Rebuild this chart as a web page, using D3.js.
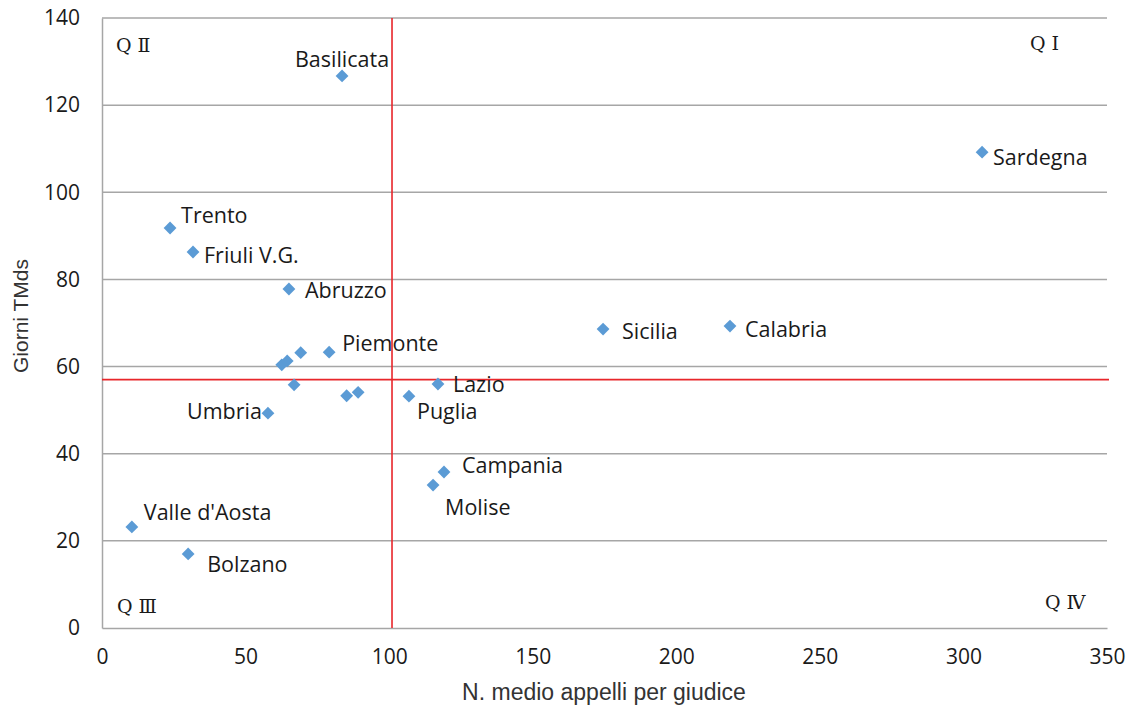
<!DOCTYPE html>
<html><head><meta charset="utf-8">
<script src="https://cdn.jsdelivr.net/npm/d3@7/dist/d3.min.js"></script>
<style>
html,body{margin:0;padding:0;background:#fff;}
svg{display:block;}
</style></head>
<body>
<svg id="chart" width="1133" height="709"></svg>
<script>
// ---- data ----
const regions = ["Basilicata","Sardegna","Trento","Friuli V.G.","Abruzzo","Piemonte","Sicilia","Calabria","Lazio","Puglia","Umbria","Campania","Molise","Valle d'Aosta","Bolzano","Lombardia","Veneto","Liguria","Emilia-Romagna","Toscana","Marche"];
const appelli  = [83.6, 306.5, 23.7, 31.7, 65.1, 79.1, 174.5, 218.7, 117.0, 106.9, 57.8, 119.1, 115.3, 10.4, 30.0, 62.6, 64.5, 69.2, 66.9, 85.2, 89.2];
const giorni   = [126.7, 109.2, 91.8, 86.3, 77.8, 63.3, 68.6, 69.3, 56.0, 53.2, 49.3, 35.8, 32.8, 23.2, 17.0, 60.4, 61.3, 63.2, 55.8, 53.3, 54.1];
const shownLabels = ["Basilicata","Sardegna","Trento","Friuli V.G.","Abruzzo","Piemonte","Sicilia","Calabria","Lazio","Puglia","Umbria","Campania","Molise","Valle d'Aosta","Bolzano"];
const xTicks = [0,50,100,150,200,250,300,350];
const yTicks = [0,20,40,60,80,100,120,140];
const refX = 101;   // vertical reference line
const refY = 57;    // horizontal reference line
const quadrantNames = ["Q Ⅰ","Q Ⅱ","Q Ⅲ","Q Ⅳ"];
const xTitle = "N. medio appelli per giudice";
const yTitle = "Giorni TMds";

// ---- layout (placement offsets in px) ----
const labelPos = {
  "Basilicata":[0,-9,"middle"],
  "Sardegna":[11,13,"start"],
  "Trento":[11,-5,"start"],
  "Friuli V.G.":[11,11,"start"],
  "Abruzzo":[16,9,"start"],
  "Piemonte":[13,-1,"start"],
  "Sicilia":[19,10,"start"],
  "Calabria":[15,11,"start"],
  "Lazio":[15,8,"start"],
  "Puglia":[8,23,"start"],
  "Umbria":[-6,6,"end"],
  "Campania":[18,1,"start"],
  "Molise":[12,30,"start"],
  "Valle d'Aosta":[12,-7,"start"],
  "Bolzano":[19,18,"start"]
};
const quadPos = {"Q Ⅰ":[1030,50],"Q Ⅱ":[116,52],"Q Ⅲ":[117,613],"Q Ⅳ":[1045,609]};

const svg = d3.select("#chart");
const L = 102, R = 1107, T = 18, B = 628;
const x = d3.scaleLinear().domain([0,350]).range([L,R]);
const y = d3.scaleLinear().domain([0,140]).range([B,T]);

const tickFont = "'Open Sans','Noto Sans',sans-serif";
const titleFont = "'Liberation Sans Narrow','Liberation Sans',Arial,sans-serif";
const labelFont = "'Open Sans','Noto Sans',sans-serif";

// gridlines
svg.append("g").selectAll("line").data(yTicks.filter(d=>d>0)).join("line")
  .attr("x1",L).attr("x2",R).attr("y1",d=>y(d)).attr("y2",d=>y(d))
  .attr("stroke","#a6a6a6").attr("stroke-width",1.5);

// axes
const yAxis = d3.axisLeft(y).tickValues(yTicks).tickSize(0).tickPadding(22);
const gy = svg.append("g").attr("transform",`translate(${L},0)`).call(yAxis);
gy.select(".domain").attr("stroke","#a6a6a6").attr("stroke-width",1.5);
gy.selectAll("text").attr("font-family",tickFont).attr("font-size",21).attr("fill","#1a1a1a");

const xAxis = d3.axisBottom(x).tickValues(xTicks).tickSize(0).tickPadding(21);
const gx = svg.append("g").attr("transform",`translate(0,${B})`).call(xAxis);
gx.select(".domain").attr("stroke","#a6a6a6").attr("stroke-width",1.5);
gx.selectAll("text").attr("font-family",tickFont).attr("font-size",21).attr("fill","#1a1a1a");

// axis titles
svg.append("text").attr("x",604).attr("y",700).attr("text-anchor","middle")
  .attr("font-family",titleFont).attr("font-size",23).attr("fill","#333").text(xTitle);
svg.append("text").attr("transform",`translate(28,316) rotate(-90)`).attr("text-anchor","middle")
  .attr("font-family",titleFont).attr("font-size",21).attr("fill","#333").text(yTitle);

// reference lines
svg.append("line").attr("x1",x(refX)).attr("x2",x(refX)).attr("y1",T).attr("y2",B)
  .attr("stroke","#e8262b").attr("stroke-width",1.6);
svg.append("line").attr("x1",L).attr("x2",R+2).attr("y1",y(refY)).attr("y2",y(refY))
  .attr("stroke","#e8262b").attr("stroke-width",1.6);

// quadrant labels
svg.append("g").selectAll("text").data(quadrantNames).join("text")
  .attr("x",d=>quadPos[d][0]).attr("y",d=>quadPos[d][1])
  .attr("font-family","'DejaVu Serif','Liberation Serif',serif")
  .attr("font-size",19).attr("fill","#1a1a1a").text(d=>d);

// points
const pts = regions.map((r,i)=>({name:r, a:appelli[i], g:giorni[i]}));
svg.append("g").selectAll("path").data(pts).join("path")
  .attr("transform",d=>`translate(${x(d.a)},${y(d.g)}) rotate(45)`)
  .attr("d",d3.symbol(d3.symbolSquare,82))
  .attr("fill","#5b9bd5");

// labels
svg.append("g").selectAll("text").data(pts.filter(d=>shownLabels.includes(d.name))).join("text")
  .attr("x",d=>x(d.a)+labelPos[d.name][0])
  .attr("y",d=>y(d.g)+labelPos[d.name][1])
  .attr("text-anchor",d=>labelPos[d.name][2])
  .attr("font-family",labelFont).attr("font-size",21.5).attr("fill","#1a1a1a")
  .text(d=>d.name);
</script>
</body></html>
